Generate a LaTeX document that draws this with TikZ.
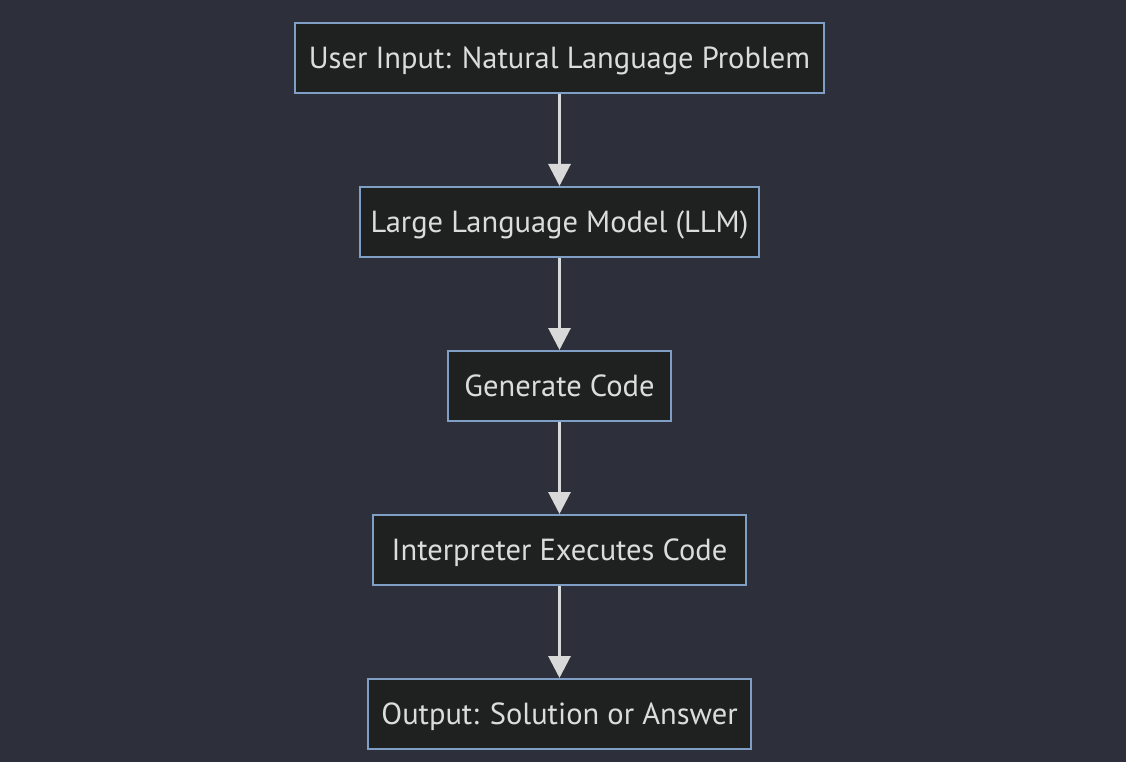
\documentclass[tikz,border=0pt]{standalone}
\usepackage{fontspec}
\setmainfont{PT Sans}
\usetikzlibrary{positioning,arrows.meta}

\definecolor{bgdark}{HTML}{2D303B}
\definecolor{boxfill}{HTML}{1F2020}
\definecolor{boxline}{HTML}{7F9FC6}
\definecolor{arrline}{HTML}{D9D9D9}
\definecolor{boxtext}{HTML}{DCDCDC}

\begin{document}
\begin{tikzpicture}[
  font=\fontsize{30.5}{34}\selectfont,
  box/.style={draw=boxline, line width=2pt, fill=boxfill, text=boxtext,
              align=center, inner sep=0pt, minimum height=70pt,
              text height=21pt, text depth=0pt},
  arr/.style={-{Triangle[length=22pt, width=22pt]}, arrline, line width=3pt},
  node distance=92pt,
]
\fill[bgdark] (0pt,0pt) rectangle (1126pt,-762pt);
\useasboundingbox (0pt,0pt) rectangle (1126pt,-762pt);

\node[box, minimum width=529pt] at (559.5pt,-58pt) (input) {User Input: Natural Language Problem};
\node[box, minimum width=399pt, below=of input]   (llm)    {Large Language Model (LLM)};
\node[box, minimum width=223pt, below=of llm]     (gen)    {Generate Code};
\node[box, minimum width=373pt, below=of gen]     (interp) {Interpreter Executes Code};
\node[box, minimum width=383pt, below=of interp]  (output) {Output: Solution or Answer};

\draw[arr] (input) -- (llm);
\draw[arr] (llm) -- (gen);
\draw[arr] (gen) -- (interp);
\draw[arr] (interp) -- (output);
\end{tikzpicture}
\end{document}
